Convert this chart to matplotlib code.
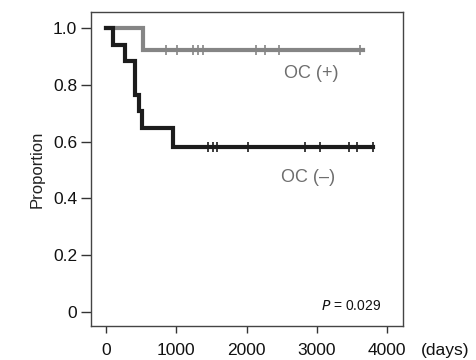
import numpy as np
import matplotlib
matplotlib.use("Agg")
import matplotlib.pyplot as plt

plt.rcParams['font.family'] = ['Liberation Sans', 'DejaVu Sans']

# ---------------- data ----------------
# OC(+) step curve
pos_t = [0, 522, 3650]
pos_s = [1.0, 0.923, 0.923]
pos_cens_t = [860, 1010, 1240, 1310, 1385, 2135, 2260, 2465, 3610]

# OC(-) step curve
neg_t = [0, 95, 270, 412, 475, 507, 958, 3795]
neg_s = [1.0, 0.941, 0.882, 0.765, 0.706, 0.647, 0.582, 0.582]
neg_cens_t = [1455, 1527, 1575, 2015, 2830, 3045, 3460, 3565, 3795]

xticks = [0, 1000, 2000, 3000, 4000]
yticks = [0, 0.2, 0.4, 0.6, 0.8, 1.0]
ytick_labels = ["0", "0.2", "0.4", "0.6", "0.8", "1.0"]

GRAY = "#858585"
DARK = "#1c1c1c"

fig = plt.figure(figsize=(4.76, 3.6), dpi=100)
ax = fig.add_axes([91 / 476, 34 / 360, 312 / 476, 314 / 360])


def surv_at(ts, ss, t):
    idx = np.searchsorted(ts, t, side="right") - 1
    return ss[idx]


for ts, ss, cens, col in [(pos_t, pos_s, pos_cens_t, GRAY), (neg_t, neg_s, neg_cens_t, DARK)]:
    ax.step(ts, ss, where="post", color=col, lw=3.0, solid_joinstyle="miter")
    ax.plot(cens, [surv_at(ts, ss, c) for c in cens], ls="none", marker="|",
            ms=7, mew=1.2, color=col)

ax.text(2926, 0.84, "OC (+)", color="#6e6e6e", fontsize=13, ha="center", va="center")
ax.text(2873, 0.475, "OC (\u2013)", color="#6e6e6e", fontsize=13, ha="center", va="center")
ax.text(3480, 0.021, "$\\it{P}$ = 0.029", color="#111111", fontsize=10, ha="center", va="center")

ax.set_xlim(-213, 4225)
ax.set_ylim(-0.049, 1.056)
ax.set_xticks(xticks)
ax.set_xticklabels([str(x) for x in xticks])
ax.set_yticks(yticks)
ax.set_yticklabels(ytick_labels)
ax.tick_params(colors="#333333", labelsize=12.5, labelcolor="#111111", width=1)
ax.tick_params(axis="x", direction="out", length=5, pad=7)
ax.tick_params(axis="y", direction="out", length=7, pad=3)
ax.set_ylabel("Proportion", fontsize=12, color="#222222", labelpad=6)
for sp in ax.spines.values():
    sp.set_color("#444444")
    sp.set_linewidth(1.0)

fig.text(445 / 476, 1 - 350 / 360, "(days)", fontsize=12.5, ha="center", va="center", color="#111111")

fig.savefig("out.png", dpi=100)
